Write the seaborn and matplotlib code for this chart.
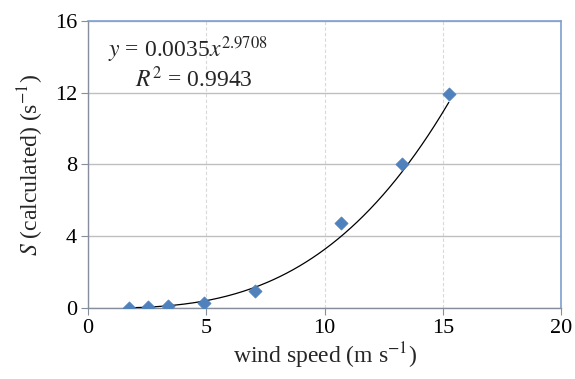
import numpy as np
import pandas as pd
import seaborn as sns
import matplotlib
matplotlib.use("Agg")
import matplotlib.pyplot as plt

# measured points
wind_speed = [1.74, 2.53, 3.38, 4.90, 7.08, 10.69, 13.26, 15.25]
s_calc = [0.02, 0.05, 0.13, 0.28, 0.95, 4.72, 8.05, 11.92]

# power-law trendline y = a * x^b
fit_a = 0.0035
fit_b = 2.9708
fit_r2 = 0.9943

x_ticks = [0, 5, 10, 15, 20]
y_ticks = [0, 4, 8, 12, 16]

sns.set_theme(style="white")
plt.rcParams["font.family"] = ["Liberation Serif", "DejaVu Serif"]
plt.rcParams["mathtext.fontset"] = "stix"

df = pd.DataFrame({"wind": wind_speed, "S": s_calc})

fig = plt.figure(figsize=(5.75, 3.79), dpi=100)
ax = fig.add_axes([0.153, 0.187, 0.823, 0.758])

# trendline
xf = np.linspace(min(wind_speed), max(wind_speed), 200)
ax.plot(xf, fit_a * xf ** fit_b, color="black", lw=0.9, zorder=3)

sns.scatterplot(data=df, x="wind", y="S", marker="D", s=45, color="#4F81BD",
                edgecolor="#4F81BD", linewidth=0.5, ax=ax, zorder=4)

ax.set_xlim(0, 20)
ax.set_ylim(0, 16)
ax.set_xticks(x_ticks)
ax.set_yticks(y_ticks)
ax.yaxis.grid(True, color="#BFBFBF", lw=1.0, ls="-")
ax.xaxis.grid(True, color="#D9D9D9", lw=0.8, ls=(0, (3, 2)))
ax.set_axisbelow(True)

for side in ["left", "bottom"]:
    ax.spines[side].set_color("#868E9C")
    ax.spines[side].set_linewidth(1.0)
for side in ["top", "right"]:
    ax.spines[side].set_color("#7F9FCF")
    ax.spines[side].set_linewidth(1.2)

ax.tick_params(axis="both", direction="out", length=5, width=0.8, color="#868E9C",
               labelsize=16, labelcolor="black", pad=3, left=True, bottom=True)

ax.set_xlabel(r"wind speed (m s$^{-1}$)", fontsize=17, labelpad=2)
ax.set_ylabel(r"$S$ (calculated) (s$^{-1}$)", fontsize=17, labelpad=6)

ax.text(0.85, 14.4, rf"$y$ = {fit_a}$x^{{{fit_b}}}$", fontsize=17, ha="left", va="center")
ax.text(2.0, 12.75, rf"$R^2$ = {fit_r2}", fontsize=17, ha="left", va="center")

fig.savefig("out.png", dpi=100)
